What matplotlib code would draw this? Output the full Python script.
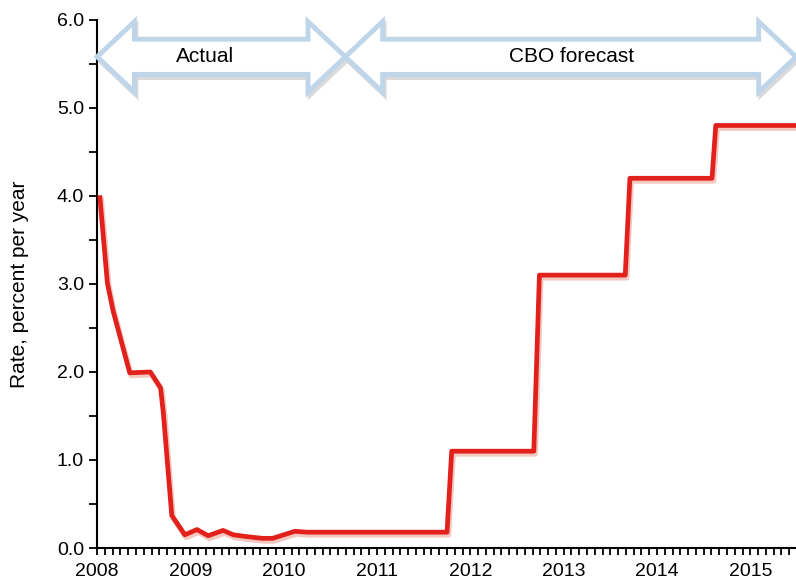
import matplotlib.pyplot as plt
from matplotlib.patches import Polygon
from matplotlib.ticker import MultipleLocator, FormatStrFormatter

# Rate data
years = [2008.03, 2008.11, 2008.17, 2008.35, 2008.57, 2008.68, 2008.71, 2008.80,
         2008.94, 2009.07, 2009.19, 2009.35, 2009.46, 2009.60, 2009.77, 2009.88,
         2010.00, 2010.12, 2010.25, 2010.70, 2011.00, 2011.50, 2011.75,
         2011.80, 2012.68, 2012.74, 2013.66, 2013.71, 2014.59, 2014.63, 2015.5]
rates = [3.98, 3.01, 2.70, 1.99, 2.00, 1.82, 1.53, 0.37,
         0.15, 0.21, 0.14, 0.20, 0.15, 0.13, 0.11, 0.11,
         0.15, 0.19, 0.18, 0.18, 0.18, 0.18, 0.18,
         1.10, 1.10, 3.10, 3.10, 4.20, 4.20, 4.80, 4.80]

year_ticks = [2008, 2009, 2010, 2011, 2012, 2013, 2014, 2015]
periods = ['Actual', 'CBO forecast']
period_bounds = [(2008.0, 2010.66), (2010.66, 2015.49)]
label_x = [2009.16, 2013.08]

fig = plt.figure(figsize=(7.96, 5.83), dpi=100)
ax = fig.add_axes([0.122, 0.06, 0.878, 0.906])


def double_arrow(x0, x1, yc, shaft=0.2, head=0.4, hl=0.4):
    return [(x0, yc), (x0 + hl, yc + head), (x0 + hl, yc + shaft),
            (x1 - hl, yc + shaft), (x1 - hl, yc + head), (x1, yc),
            (x1 - hl, yc - head), (x1 - hl, yc - shaft), (x0 + hl, yc - shaft),
            (x0 + hl, yc - head)]


for (x0, x1), label, lx in zip(period_bounds, periods, label_x):
    pts = double_arrow(x0, x1, 5.58)
    shadow = [(x + 0.02, y - 0.04) for x, y in pts]
    ax.add_patch(Polygon(shadow, closed=True, facecolor='none', edgecolor='#dadada',
                         lw=3, clip_on=False, zorder=2))
    ax.add_patch(Polygon(pts, closed=True, facecolor='white', edgecolor='#bfd5ea',
                         lw=3.5, clip_on=False, zorder=3))
    ax.text(lx, 5.58, label, ha='center', va='center', fontsize=15,
            family='Liberation Sans', zorder=4,
            bbox=dict(facecolor='white', edgecolor='none', pad=1))

ax.plot([y + 0.015 for y in years], [r - 0.03 for r in rates], color='#f2c9c0',
        lw=4, solid_joinstyle='round', zorder=4)
ax.plot(years, rates, color='#e3211c', lw=3.4, solid_joinstyle='round', zorder=5)

ax.set_xlim(2008, 2015.49)
ax.set_ylim(0, 6)
ax.set_xticks(year_ticks)
ax.set_xticklabels([str(y) for y in year_ticks])
ax.xaxis.set_minor_locator(MultipleLocator(1 / 12))
ax.yaxis.set_major_locator(MultipleLocator(1))
ax.yaxis.set_minor_locator(MultipleLocator(0.5))
ax.yaxis.set_major_formatter(FormatStrFormatter('%.1f'))

for s in ['top', 'right']:
    ax.spines[s].set_visible(False)
for s in ['left', 'bottom']:
    ax.spines[s].set_linewidth(1.5)

ax.tick_params(axis='both', which='both', direction='out', length=6, width=1.3,
               labelsize=14)
ax.tick_params(axis='x', which='both', length=5, pad=6)
for lbl in ax.get_xticklabels() + ax.get_yticklabels():
    lbl.set_family('Liberation Sans')

ax.set_ylabel('Rate, percent per year', fontsize=15, family='Liberation Sans', labelpad=20)

fig.savefig('out.png', dpi=100)
